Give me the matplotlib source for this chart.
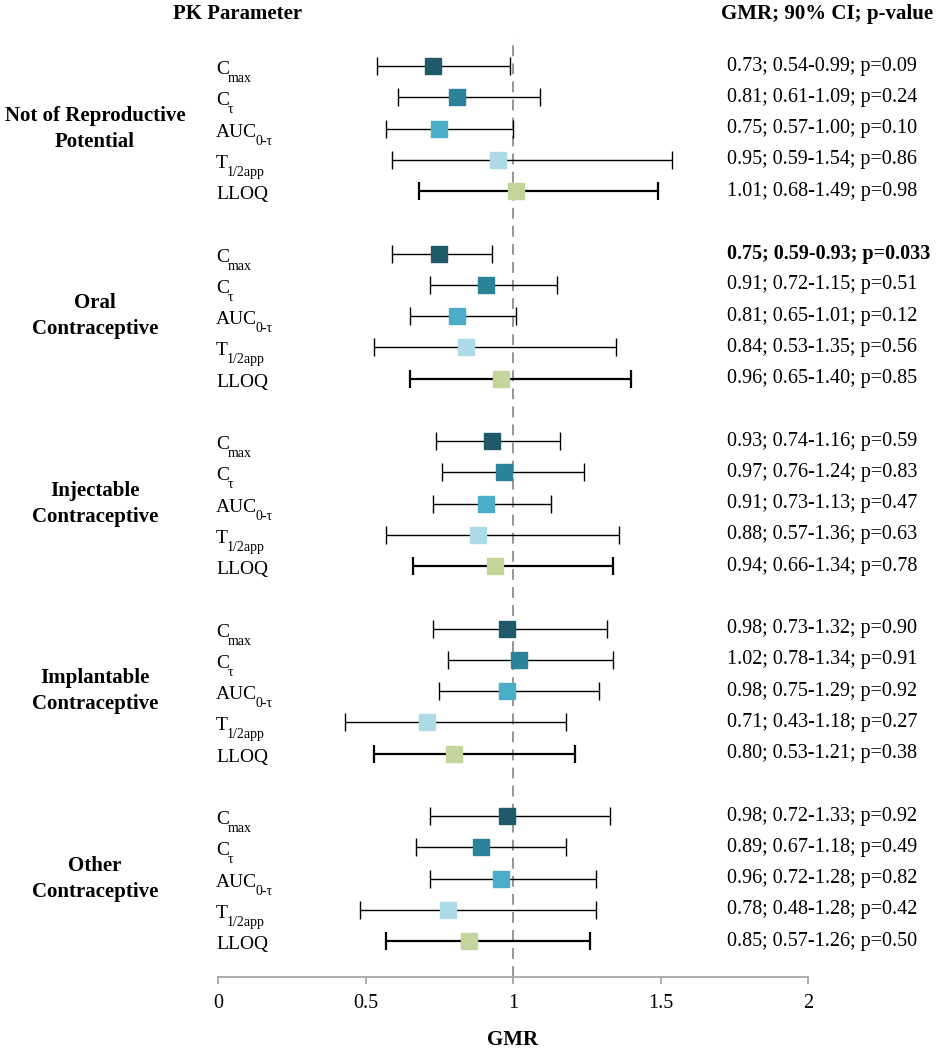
import matplotlib
matplotlib.use("Agg")
import matplotlib.pyplot as plt
import matplotlib.transforms as mtransforms

plt.rcParams['font.family'] = ['Liberation Serif', 'DejaVu Serif']

groups = ["Not of Reproductive\nPotential", "Oral\nContraceptive", "Injectable\nContraceptive",
          "Implantable\nContraceptive", "Other\nContraceptive"]
param_main = ["C", "C", "AUC", "T", "LLOQ"]
param_sub = ["max", "τ", "0-τ", "1/2app", ""]
colors = ["#1e5a6a", "#2b8399", "#4aaec8", "#acdbe7", "#c2d69b"]

gmr = [[0.73, 0.81, 0.75, 0.95, 1.01],
       [0.75, 0.91, 0.81, 0.84, 0.96],
       [0.93, 0.97, 0.91, 0.88, 0.94],
       [0.98, 1.02, 0.98, 0.71, 0.80],
       [0.98, 0.89, 0.96, 0.78, 0.85]]
lo = [[0.54, 0.61, 0.57, 0.59, 0.68],
      [0.59, 0.72, 0.65, 0.53, 0.65],
      [0.74, 0.76, 0.73, 0.57, 0.66],
      [0.73, 0.78, 0.75, 0.43, 0.53],
      [0.72, 0.67, 0.72, 0.48, 0.57]]
hi = [[0.99, 1.09, 1.00, 1.54, 1.49],
      [0.93, 1.15, 1.01, 1.35, 1.40],
      [1.16, 1.24, 1.13, 1.36, 1.34],
      [1.32, 1.34, 1.29, 1.18, 1.21],
      [1.33, 1.18, 1.28, 1.28, 1.26]]
pval = [["0.09", "0.24", "0.10", "0.86", "0.98"],
        ["0.033", "0.51", "0.12", "0.56", "0.85"],
        ["0.59", "0.83", "0.47", "0.63", "0.78"],
        ["0.90", "0.91", "0.92", "0.27", "0.38"],
        ["0.92", "0.49", "0.82", "0.42", "0.50"]]
significant = [(1, 0)]
xticks = [0, 0.5, 1, 1.5, 2]
xticklabels = ["0", "0.5", "1", "1.5", "2"]

W, H = 938, 1050
fig = plt.figure(figsize=(W / 100, H / 100), dpi=100)
left, right = 218 / W, 808 / W
top, bottom = 1 - 38 / H, 1 - 977 / H
ax = fig.add_axes([left, bottom, right - left, top - bottom])
blend = mtransforms.blended_transform_factory(fig.transFigure, ax.transData)

def shifted(dy_px):
    return blend + mtransforms.ScaledTranslation(0, -dy_px / 100, fig.dpi_scale_trans)

nrows = len(groups) * 6 - 1
main_texts = []
for g in range(len(groups)):
    for k in range(len(param_main)):
        y = g * 6 + k
        lw = 1.6 if k == 4 else 1.0
        ax.errorbar(gmr[g][k], y, xerr=[[gmr[g][k] - lo[g][k]], [hi[g][k] - gmr[g][k]]],
                    fmt='none', ecolor='black', elinewidth=lw, capsize=6.5, capthick=lw, zorder=2)
        ax.plot(gmr[g][k], y, marker='s', markersize=11.3, color=colors[k],
                markeredgecolor=colors[k], linestyle='none', zorder=3)
        t = fig.text(216 / W, y, param_main[k], ha='left', va='baseline', fontsize=14,
                     transform=shifted(8))
        main_texts.append((t, y, param_sub[k]))
        txt = f"{gmr[g][k]:.2f}; {lo[g][k]:.2f}-{hi[g][k]:.2f}; p={pval[g][k]}"
        bold = (g, k) in significant
        fig.text(727 / W, y, txt, ha='left', va='center', fontsize=14.5,
                 fontweight='bold' if bold else 'normal', transform=blend)
    fig.text(95 / W, g * 6 + 2, groups[g], ha='center', va='center', fontsize=15,
             fontweight='bold', linespacing=1.4, transform=blend)

ax.axvline(1.0, color='#8c8c8c', linestyle=(0, (6, 4)), linewidth=1.3, zorder=1)

ax.set_xlim(0, 2)
ax.set_ylim(nrows - 1 + 1.15, -0.9)
ax.set_xticks(xticks)
ax.set_xticklabels(xticklabels, fontsize=14.5)
ax.set_yticks([])
for s in ['top', 'right', 'left']:
    ax.spines[s].set_visible(False)
ax.spines['bottom'].set_color('#a6a6a6')
ax.spines['bottom'].set_linewidth(1.3)
ax.tick_params(axis='x', direction='out', length=5, width=1.3, color='#a6a6a6', pad=7)

fig.text(513 / W, 1 - 1040 / H, "GMR", ha='center', va='center', fontsize=15, fontweight='bold')
fig.text(238 / W, 1 - 14 / H, "PK Parameter", ha='center', va='center', fontsize=15, fontweight='bold')
fig.text(721 / W, 1 - 14 / H, "GMR; 90% CI; p-value", ha='left', va='center', fontsize=15, fontweight='bold')

fig.canvas.draw()
renderer = fig.canvas.get_renderer()
for t, y, sub in main_texts:
    if not sub:
        continue
    bb = t.get_window_extent(renderer)
    fig.text((bb.x1 - 1.5) / W, y, sub, ha='left', va='baseline', fontsize=10,
             transform=shifted(16))

fig.savefig("out.png", dpi=100, facecolor='white')
